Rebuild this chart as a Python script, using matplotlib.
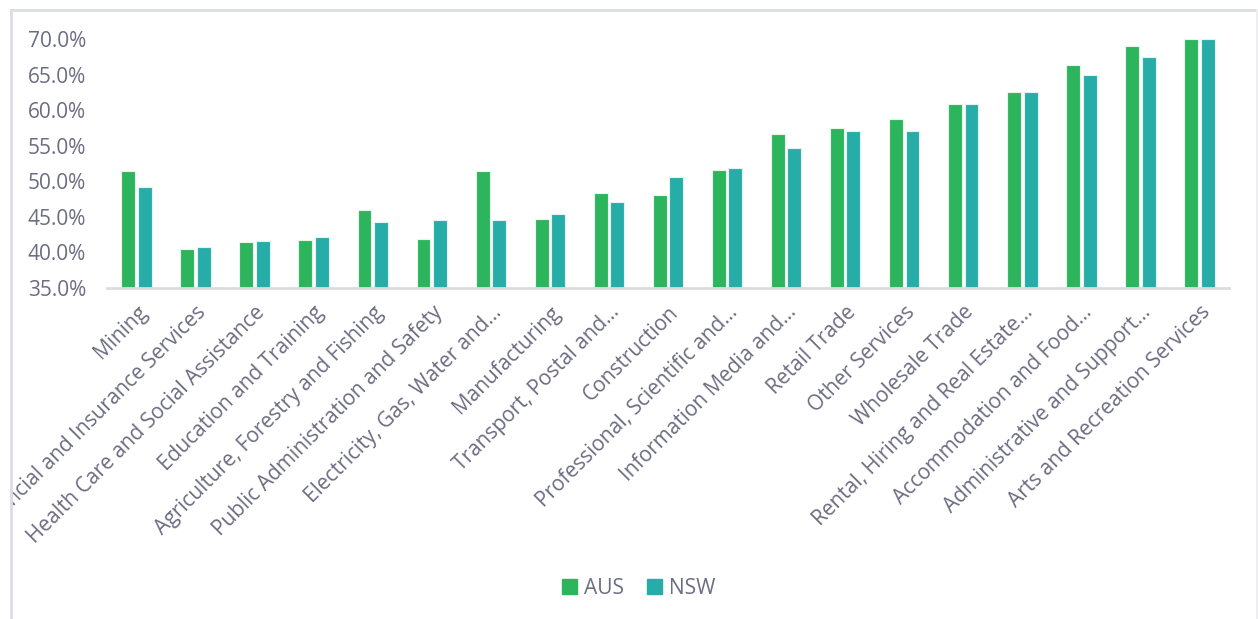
import matplotlib
matplotlib.use("Agg")
import matplotlib.pyplot as plt
import numpy as np
from matplotlib.transforms import Bbox
from matplotlib.lines import Line2D
from matplotlib.patches import Patch

categories = [
    "Mining", "Financial and Insurance Services", "Health Care and Social Assistance",
    "Education and Training", "Agriculture, Forestry and Fishing",
    "Public Administration and Safety", "Electricity, Gas, Water and...",
    "Manufacturing", "Transport, Postal and...", "Construction",
    "Professional, Scientific and...", "Information Media and...", "Retail Trade",
    "Other Services", "Wholesale Trade", "Rental, Hiring and Real Estate...",
    "Accommodation and Food...", "Administrative and Support...",
    "Arts and Recreation Services",
]
aus = [51.5, 40.5, 41.4, 41.8, 45.9, 41.9, 51.5, 44.7, 48.3, 48.1,
       51.6, 56.6, 57.5, 58.7, 60.9, 62.5, 66.3, 69.0, 70.0]
nsw = [49.2, 40.7, 41.6, 42.1, 44.3, 44.5, 44.5, 45.4, 47.1, 50.6,
       51.8, 54.7, 57.1, 57.1, 60.9, 62.5, 64.9, 67.5, 70.0]
yticks = [35, 40, 45, 50, 55, 60, 65, 70]
series_names = ["AUS", "NSW"]

GREEN = "#2db55d"
TEAL = "#27ada8"
TXT = "#6c6c82"
LINE = "#dcdce3"

plt.rcParams['font.family'] = ['Open Sans', 'DejaVu Sans']

W, H = 1258, 619
fig = plt.figure(figsize=(W / 100, H / 100), dpi=100)
ax = fig.add_axes([107 / W, 1 - 288 / H, (1229 - 107) / W, (288 - 39) / H])

x = np.arange(len(categories))
bw = 0.235
off = 0.14
ax.bar(x - off, aus, width=bw, bottom=0, color=GREEN, edgecolor="#e8f5ec", linewidth=0.8, zorder=2)
ax.bar(x + off, nsw, width=bw, bottom=0, color=TEAL, edgecolor="#e3f3f2", linewidth=0.8, zorder=2)

ax.set_ylim(35, 70)
ax.set_xlim(-0.5, len(categories) - 0.5)
ax.set_yticks(yticks)
ax.set_yticklabels([f"{v:.1f}%" for v in yticks], fontsize=15, color=TXT)
ax.set_xticks(x)
ax.set_xticklabels(categories, rotation=45, ha="right", rotation_mode="anchor",
                   fontsize=15, color=TXT)
ax.tick_params(axis="both", length=0)
ax.tick_params(axis="y", pad=15)
ax.tick_params(axis="x", pad=10)

for s in ["top", "right", "left"]:
    ax.spines[s].set_visible(False)
ax.spines["bottom"].set_color(LINE)
ax.spines["bottom"].set_linewidth(2)

clip = Bbox.from_extents(12, 0, 1256, H)
for lab in ax.get_xticklabels():
    lab.set_clip_on(True)
    lab.set_clip_box(clip)

# outer frame
fig.add_artist(Line2D([11 / W, 11 / W], [0, 1 - 10 / H], color=LINE, lw=2, transform=fig.transFigure))
fig.add_artist(Line2D([11 / W, 1257 / W], [1 - 10 / H, 1 - 10 / H], color=LINE, lw=2, transform=fig.transFigure))
fig.add_artist(Line2D([1257 / W, 1257 / W], [0, 1 - 10 / H], color="#eeeef2", lw=1.5, transform=fig.transFigure))

handles = [Patch(facecolor=GREEN, edgecolor=GREEN), Patch(facecolor=TEAL, edgecolor=TEAL)]
leg = fig.legend(handles, series_names, loc="center", bbox_to_anchor=(639 / W, 1 - 588 / H),
                 ncol=2, frameon=False, fontsize=15, handlelength=0.7, handleheight=0.7,
                 handletextpad=0.35, columnspacing=1.1)
for t in leg.get_texts():
    t.set_color(TXT)

fig.savefig("out.png", dpi=100)
